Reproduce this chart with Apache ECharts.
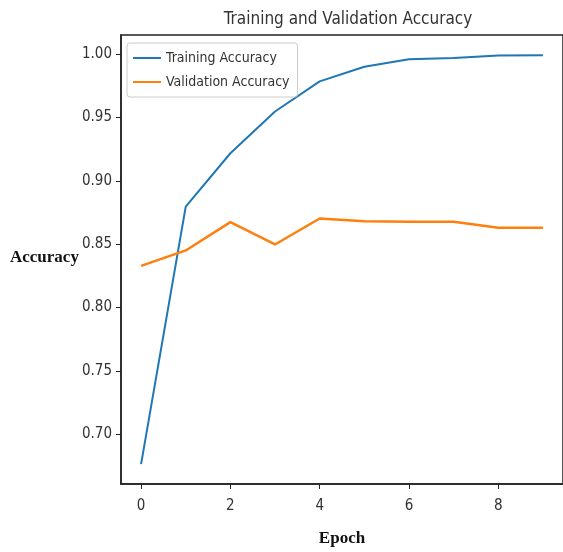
<!DOCTYPE html>
<html>
<head>
<meta charset="utf-8">
<script src="https://cdn.jsdelivr.net/npm/echarts@6/dist/echarts.min.js"></script>
<style>
  html, body { margin: 0; padding: 0; background: #fff; }
  #main { width: 563px; height: 552px; }
</style>
</head>
<body>
<div id="main"></div>
<script>
// 数据
var epochs = [0, 1, 2, 3, 4, 5, 6, 7, 8, 9];
var trainAcc = [0.6765, 0.8797, 0.9218, 0.9547, 0.9785, 0.9900, 0.9960, 0.9970, 0.9990, 0.9992];
var valAcc = [0.8329, 0.8451, 0.8674, 0.8498, 0.8703, 0.8682, 0.8677, 0.8677, 0.8630, 0.8630];
var xTicks = [0, 2, 4, 6, 8];
var yTicks = [0.70, 0.75, 0.80, 0.85, 0.90, 0.95, 1.00];

var font = "'DejaVu Sans Condensed', 'DejaVu Sans', sans-serif";

function pairs(vals) {
    return epochs.map(function (e, i) { return [e, vals[i]]; });
}

var myChart = echarts.init(document.getElementById('main'));

myChart.setOption({
    animation: false,
    title: {
        text: 'Training and Validation Accuracy',
        left: 343,
        top: 6,
        textAlign: 'center',
        textStyle: { fontFamily: font, fontSize: 17, fontWeight: 'normal', color: '#333' }
    },
    legend: {
        orient: 'vertical',
        left: 127,
        top: 43,
        padding: [8, 8, 8, 6],
        itemGap: 10,
        itemWidth: 28,
        itemHeight: 2,
        icon: 'rect',
        borderColor: '#ccc',
        borderWidth: 1,
        borderRadius: 3,
        textStyle: { fontFamily: font, fontSize: 14, color: '#333' },
        data: ['Training Accuracy', 'Validation Accuracy']
    },
    grid: {
        left: 121,
        top: 35,
        width: 445,
        height: 452,
        show: true,
        borderColor: '#222',
        borderWidth: 1.5
    },
    xAxis: {
        type: 'value',
        min: -0.45,
        max: 9.45,
        name: 'Epoch',
        nameLocation: 'middle',
        nameGap: 46,
        nameTextStyle: { fontFamily: "'Liberation Serif', serif", fontSize: 17, fontWeight: 'bold', color: '#111' },
        splitLine: { show: false },
        axisLine: { onZero: false, lineStyle: { color: '#222', width: 1.5 } },
        axisTick: { customValues: xTicks, length: 5, lineStyle: { color: '#222' } },
        axisLabel: {
            customValues: xTicks,
            margin: 15,
            fontFamily: font, fontSize: 15, color: '#333'
        }
    },
    yAxis: {
        type: 'value',
        min: 0.6608,
        max: 1.0151,
        splitLine: { show: false },
        axisLine: { show: true, onZero: false, lineStyle: { color: '#222', width: 1.5 } },
        axisTick: { show: true, customValues: yTicks, length: 5, lineStyle: { color: '#222' } },
        axisLabel: {
            customValues: yTicks,
            margin: 9,
            fontFamily: font, fontSize: 15, color: '#333',
            formatter: function (v) { return v.toFixed(2); }
        }
    },
    graphic: [{
        type: 'text',
        left: 10,
        top: 249,
        style: {
            text: 'Accuracy',
            font: "bold 17px 'Liberation Serif', serif",
            fill: '#111'
        }
    }],
    series: [
        {
            name: 'Training Accuracy',
            type: 'line',
            data: pairs(trainAcc),
            showSymbol: false,
            color: '#1f77b4',
            lineStyle: { width: 2 }
        },
        {
            name: 'Validation Accuracy',
            type: 'line',
            data: pairs(valAcc),
            showSymbol: false,
            color: '#ff7f0e',
            lineStyle: { width: 2.5 }
        }
    ]
});
</script>
</body>
</html>
